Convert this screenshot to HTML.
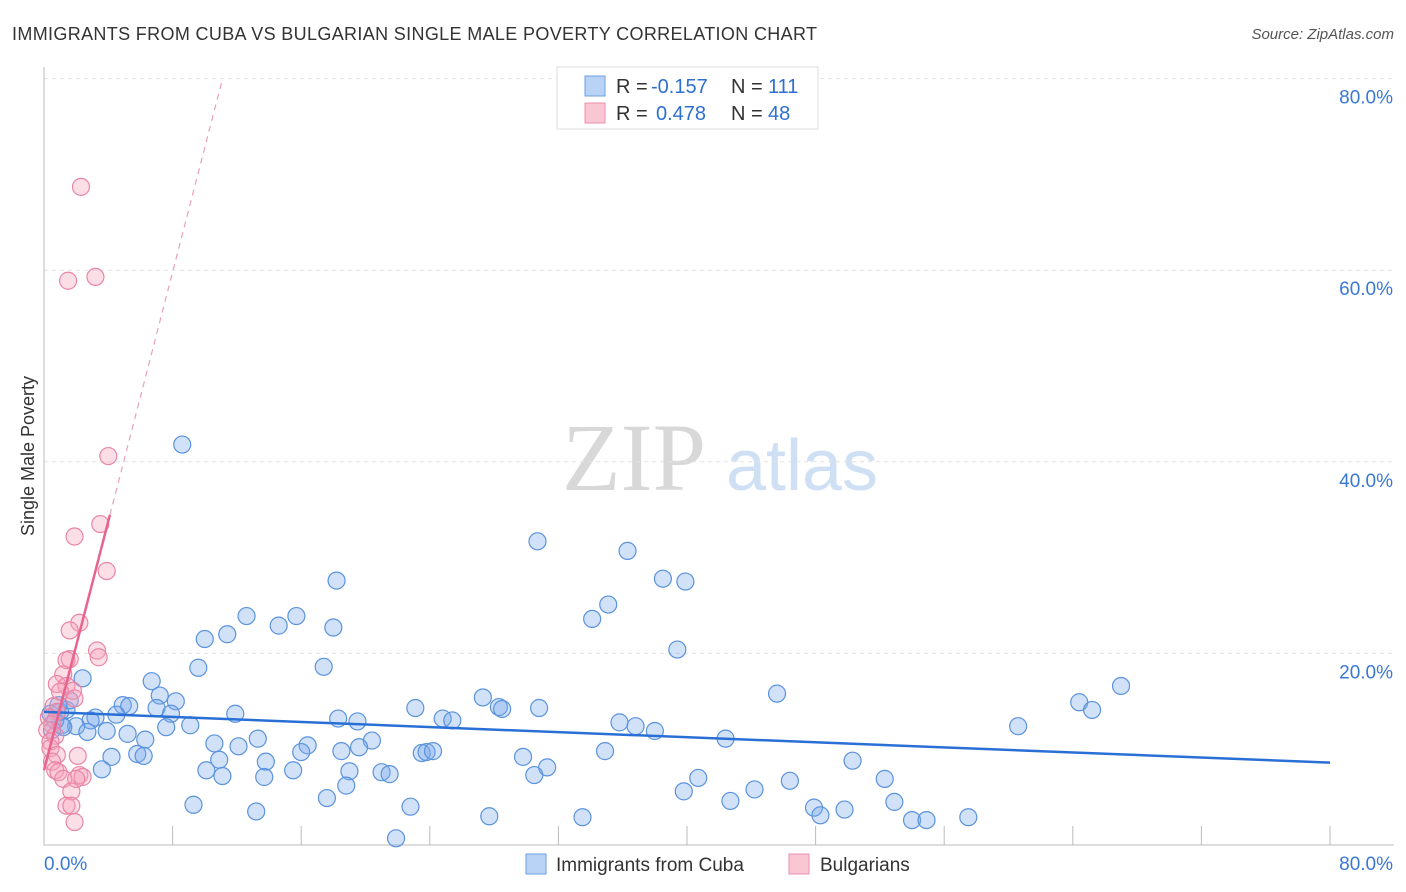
<!DOCTYPE html>
<html><head><meta charset="utf-8">
<style>
body{margin:0;background:#fff;font-family:"Liberation Sans",sans-serif;}
svg{display:block}
</style></head>
<body>
<svg id="chart" width="1406" height="892" xmlns="http://www.w3.org/2000/svg">
<text x="12" y="40" font-size="18" fill="#333" textLength="805" lengthAdjust="spacing">IMMIGRANTS FROM CUBA VS BULGARIAN SINGLE MALE POVERTY CORRELATION CHART</text>
<text x="1394" y="39" font-size="15" fill="#555" font-style="italic" text-anchor="end">Source: ZipAtlas.com</text>
<g>
<text x="634" y="490" font-size="96" fill="#d8d8d8" text-anchor="middle" font-family="Liberation Serif,serif">ZIP</text>
<text x="802" y="490" font-size="72" fill="#cfe0f5" text-anchor="middle">atlas</text>
</g>
<g id="grid"></g>
<g id="axes"></g>
<g id="marks"></g>
<g>
<rect x="557" y="67" width="261" height="62" fill="#fff" stroke="#ddd"/>
<rect x="585" y="76" width="20" height="20" fill="#b8d3f5" stroke="#6a9fe0"/>
<text x="616" y="93" font-size="20" fill="#333">R =</text>
<text x="651" y="93" font-size="20" fill="#2f6fd0">-0.157</text>
<text x="731" y="93" font-size="20" fill="#333">N =</text>
<text x="768" y="93" font-size="20" fill="#2f6fd0">111</text>
<rect x="585" y="103" width="20" height="20" fill="#f9c6d4" stroke="#ec8fab"/>
<text x="616" y="120" font-size="20" fill="#333">R =</text>
<text x="656" y="120" font-size="20" fill="#2f6fd0">0.478</text>
<text x="731" y="120" font-size="20" fill="#333">N =</text>
<text x="768" y="120" font-size="20" fill="#2f6fd0">48</text>
</g>
<g>
<rect x="526" y="854" width="20" height="20" fill="#b8d3f5" stroke="#6a9fe0"/>
<text x="556" y="871" font-size="19" fill="#333">Immigrants from Cuba</text>
<rect x="789" y="854" width="20" height="20" fill="#f9c6d4" stroke="#ec8fab"/>
<text x="820" y="871" font-size="19" fill="#333">Bulgarians</text>
</g>
<text transform="translate(34,456) rotate(-90)" font-size="18" fill="#333" text-anchor="middle">Single Male Poverty</text>
</svg>
<script>
const blueX=[8.6,30.7,36.3,38.5,39.9,18.2,35.1,34.1,12.6,15.7,14.6,18.0,11.4,10.0,39.4,17.4,9.6,6.7,2.4,67.0,45.6,64.4,65.2,27.3,7.2,8.2,4.9,5.3,7.0,28.3,28.5,30.8,23.1,7.9,4.5,11.9,3.2,2.9,24.8,25.4,18.3,19.5,35.8,36.8,38.0,60.6,9.1,7.6,2.0,1.1,2.7,3.9,5.2,6.3,13.3,20.4,42.4,10.6,12.1,16.4,19.6,16.0,18.5,23.5,23.8,24.2,34.9,4.2,5.8,6.2,10.9,13.8,29.8,50.3,31.3,3.6,10.1,15.5,19.0,21.0,21.5,11.1,13.7,30.5,40.7,46.4,52.3,18.8,39.8,44.2,17.6,42.7,52.9,9.3,22.8,47.9,49.8,13.2,48.3,27.7,33.5,54.0,54.9,57.5,21.9,0.4,0.7,1.0,1.4,1.6,0.5,1.2,0.9];
const blueY=[41.8,31.7,30.7,27.8,27.5,27.6,25.1,23.6,23.9,23.9,22.9,22.7,22.0,21.5,20.4,18.6,18.5,17.1,17.4,16.6,15.8,14.9,14.1,15.4,15.6,15.0,14.6,14.5,14.3,14.4,14.2,14.3,14.3,13.7,13.6,13.7,13.3,13.0,13.2,13.0,13.2,12.9,12.8,12.4,11.9,12.4,12.5,12.3,12.4,12.5,11.8,11.9,11.6,11.0,11.1,10.9,11.1,10.6,10.3,10.4,10.2,9.7,9.8,9.6,9.7,9.8,9.8,9.2,9.5,9.3,8.9,8.7,9.2,8.8,8.1,7.9,7.8,7.8,7.7,7.6,7.4,7.2,7.1,7.3,7.0,6.7,6.9,6.2,5.6,5.8,4.9,4.6,4.5,4.2,4.0,3.9,3.7,3.5,3.1,3.0,2.9,2.6,2.6,2.9,0.7,13.7,13.0,13.9,14.1,15.1,12.0,12.3,14.6];
const pinkX=[2.3,3.2,1.5,4.0,3.5,1.9,3.9,2.2,1.6,3.3,3.4,1.6,1.4,1.2,0.8,1.4,1.8,1.0,1.9,0.6,0.8,0.3,0.5,0.2,0.7,0.4,0.4,0.8,2.1,0.5,0.7,0.9,2.2,2.4,1.2,2.0,1.7,1.4,1.7,1.9];
const pinkY=[68.7,59.3,58.9,40.6,33.5,32.2,28.6,23.2,22.4,20.3,19.6,19.4,19.3,17.8,16.8,16.6,16.1,16.0,15.3,14.5,13.9,13.3,12.6,12.0,11.4,10.8,10.1,9.4,9.3,8.7,7.8,7.6,7.3,7.1,6.9,6.9,5.6,4.1,4.1,2.4];
const yTicks=[20,40,60,80];
const yTickLabels=["20.0%","40.0%","60.0%","80.0%"];
const xTickVals=[0,8,16,24,32,40,48,56,64,72,80];
const blueTrend=[13.9,8.6];
const pinkTrend=[7.8,6.5]; // intercept, slope
const NS="http://www.w3.org/2000/svg";
const X=v=>44+v*16.075, Y=v=>845-v*9.58;
function mk(p,tag,a){const e=document.createElementNS(NS,tag);for(const k in a)e.setAttribute(k,a[k]);p.appendChild(e);return e;}
const grid=document.getElementById('grid'),axes=document.getElementById('axes'),marks=document.getElementById('marks');
yTicks.forEach((t,i)=>{
 const l=mk(grid,'line',{x1:44,x2:1394,y1:Y(t),y2:Y(t),stroke:'#e2e2e2','stroke-dasharray':'4,4'});
 
 
 const tx=mk(axes,'text',{x:1393,y:Y(t)+25,'font-size':19,fill:'#3a78d6','text-anchor':'end'});
 tx.textContent=yTickLabels[i];
 
 
});
const ax=mk(axes,'path',{d:`M44 67 V845 H1394`,stroke:'#bbb',fill:'none'});


xTickVals.slice(1).forEach(t=>{
 const l=mk(axes,'line',{x1:X(t),x2:X(t),y1:826,y2:845,stroke:'#bbb'});
 
 
});
const x0=mk(axes,'text',{x:44,y:870,'font-size':19,fill:'#3a78d6'});x0.textContent='0.0%';


const x1=mk(axes,'text',{x:1393,y:870,'font-size':19,fill:'#3a78d6','text-anchor':'end'});x1.textContent='80.0%';


blueX.forEach((x,i)=>{
 const c=mk(marks,'circle',{cx:X(x),cy:Y(blueY[i]),r:8.5,fill:'rgba(120,170,235,0.35)',stroke:'#5b93dd','stroke-width':1.2});
 
 
});
pinkX.forEach((x,i)=>{
 const c=mk(marks,'circle',{cx:X(x),cy:Y(pinkY[i]),r:8.5,fill:'rgba(245,160,185,0.35)',stroke:'#ea86a5','stroke-width':1.2});
 
 
});
const bt=mk(marks,'line',{x1:X(0),y1:Y(blueTrend[0]),x2:X(80),y2:Y(blueTrend[1]),stroke:'#2a6fd6','stroke-width':2.5});


const pxEnd=4.1, pxDash=(80-pinkTrend[0])/pinkTrend[1];
const pt=mk(marks,'line',{x1:X(0),y1:Y(pinkTrend[0]),x2:X(pxEnd),y2:Y(pinkTrend[0]+pinkTrend[1]*pxEnd),stroke:'#e8648e','stroke-width':2.5});


const pd=mk(marks,'line',{x1:X(pxEnd),y1:Y(pinkTrend[0]+pinkTrend[1]*pxEnd),x2:X(pxDash),y2:Y(80),stroke:'#eaa0b8','stroke-width':1.2,'stroke-dasharray':'6,5'});


</script>
</body></html>
